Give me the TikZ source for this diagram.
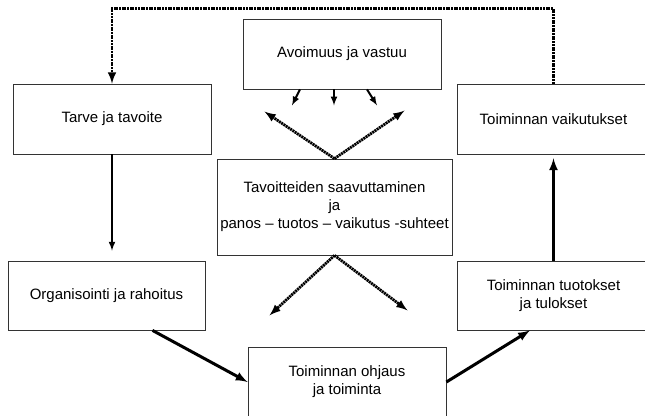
\documentclass[tikz,border=0pt]{standalone}
\usepackage{fontspec}
\setmainfont{Liberation Sans}
\usepackage{tikz}
\usetikzlibrary{arrows}
\tikzstyle{block} = [rectangle, minimum width=198pt, minimum height=70pt, inner sep=2pt, align=center, draw=black!80, line width=0.8pt, font=\fontsize{15}{18}\selectfont]
\tikzstyle{arrow} = [line width=2pt,->,>=latex]
\tikzstyle{bigarrow} = [line width=3pt,->,>=latex]
\tikzstyle{dotarrow} = [line width=2.8pt,dash pattern=on 2pt off 0.7pt,->,>=latex]

\begin{document}
\begin{tikzpicture}[x=1pt,y=-1pt]
\useasboundingbox (0,0) rectangle (645,415);
\node (avoin) [block] at (342,54) {Avoimuus ja vastuu};
\node (tarve) [block] at (112,119) {Tarve ja tavoite};
\node (vaikutus) [block, minimum width=193pt] at (553.5,119) {Toiminnan vaikutukset};
\node (tavoite) [block, minimum width=235pt, minimum height=96pt] at (334.5,207) {Tavoitteiden saavuttaminen\\ja\\panos -- tuotos -- vaikutus -suhteet};
\node (organ) [block, minimum width=197pt, minimum height=69pt] at (106.5,295.5) {Organisointi ja rahoitus};
\node (tuotos) [block, minimum width=193pt, minimum height=69pt] at (553.5,295.5) {Toiminnan tuotokset\\ja tulokset};
\node (ohjaus) [block] at (347,382) {Toiminnan ohjaus\\ja toiminta};

% feedback loop at the top
\draw [dotarrow] (vaikutus.north) -- ++(0,-75) -| (tarve.north);

\draw [arrow, shorten >=10pt] (tarve.south) -- (tarve.south |- organ.north);
\draw [bigarrow] ([xshift=46pt]organ.south) -- (ohjaus.west);
\draw [bigarrow] (ohjaus.east) -- ([xshift=-23.5pt]tuotos.south);
\draw [bigarrow, shorten >=4pt] (tuotos.north) -- (vaikutus.south);

% arrows under Avoimuus ja vastuu
\foreach \dx/\ex in {-42/-8, -8/0, 25/10}
  \draw [arrow] ([xshift=\dx pt]avoin.south) -- ++(\ex,16);

% dotted arrows around the middle box
\draw [dotarrow] (tavoite.north) -- ++(-70,-47);
\draw [dotarrow] (tavoite.north) -- ++(70,-48);
\draw [dotarrow] (tavoite.south) -- ++(-65,60);
\draw [dotarrow] (tavoite.south) -- ++(73,55);
\end{tikzpicture}
\end{document}
